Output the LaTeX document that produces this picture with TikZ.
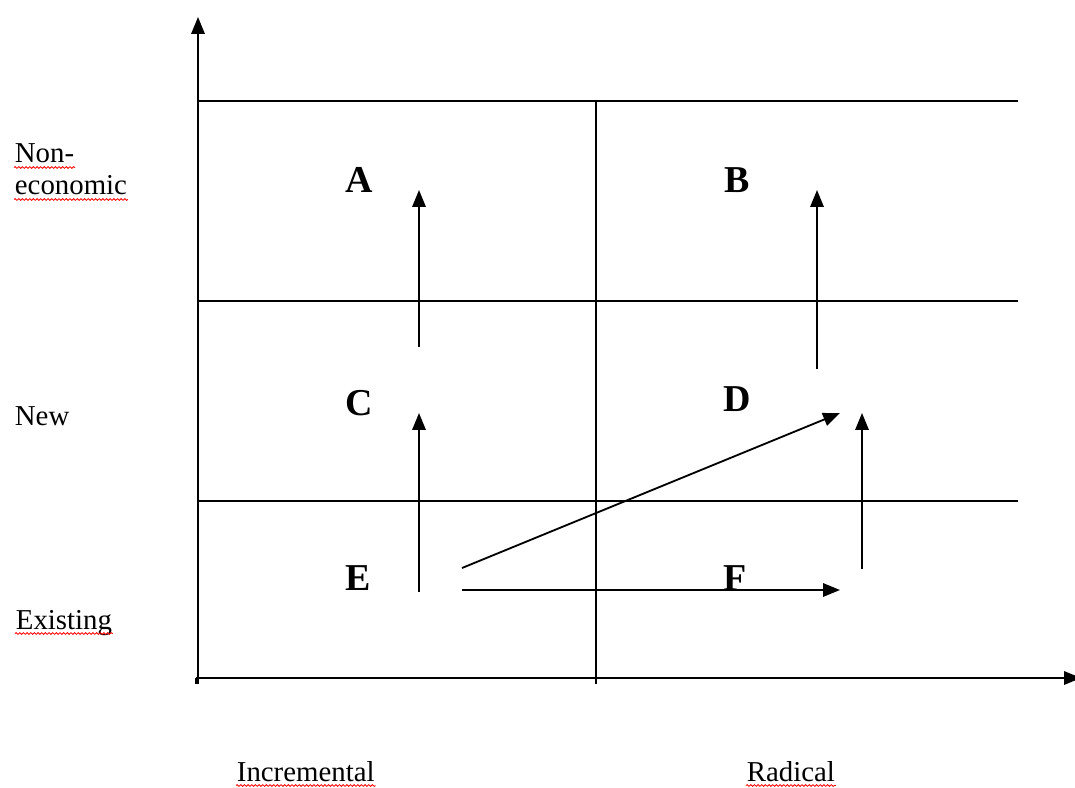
\documentclass[tikz,border=0pt]{standalone}
\usepackage{fontspec}
\setmainfont{Liberation Serif}
\usetikzlibrary{arrows.meta,decorations.pathmorphing}

\begin{document}
\begin{tikzpicture}[x=.025cm,y=-.025cm,line width=1.3pt,
  cell/.style={font=\fontsize{27}{27}\selectfont\bfseries,inner sep=0pt},
  axlab/.style={font=\fontsize{20.5}{23}\selectfont,inner sep=0pt,anchor=base west},
  squig/.style={red,line width=.6pt,decorate,decoration={snake,amplitude=.6pt,segment length=2.6pt}},
  arr/.style={-{Triangle[length=12pt,width=9.5pt]}}]
\useasboundingbox (0,0) rectangle (1075,787);
% axes
\coordinate (o) at (198,678);
\coordinate (ytop) at (198,17);
\coordinate (xend) at (1081,678);
\draw[arr] (198,684) -- (ytop);
\draw[arr] (196,678) -- (xend);
\draw (196,678) -- (196,684);
% grid
\draw (198,101) -- (1018,101);
\draw (198,301) -- (1018,301);
\draw (198,501) -- (1018,501);
\draw (596,101) -- (596,684);
% cells
\node[cell] (A) at (359,180) {A};
\node[cell] (B) at (737,180) {B};
\node[cell] (C) at (359,403) {C};
\node[cell] (D) at (737,399) {D};
\node[cell] (E) at (358,578) {E};
\node[cell] (F) at (735,578) {F};
% axis labels
\node[axlab] (non) at (14,163) {Non-};
\node[axlab] (eco) at (14,195) {economic};
\node[axlab] (new) at (14,425) {New};
\node[axlab] (exist) at (15,629) {Existing};
\node[axlab] (incr) at (236,781) {Incremental};
\node[axlab] (rad) at (746,781) {Radical};
% spelling marks
\foreach \w in {non,eco,exist,incr,rad}
  \draw[squig] ([yshift=-3.2pt]\w.base west) -- ([yshift=-3.2pt]\w.base east);
% arrows
\coordinate (ca) at (419,347);  \coordinate (ta) at (419,190);
\coordinate (ce) at (419,592);  \coordinate (tc) at (419,413);
\coordinate (cb) at (817,369);  \coordinate (tb) at (817,190);
\coordinate (cf) at (862,569);  \coordinate (td) at (862,413);
\coordinate (se) at (462,568);  \coordinate (sd) at (840,413);
\coordinate (he) at (462,590);  \coordinate (hf) at (840,590);
\draw[arr] (ca) -- (ta);
\draw[arr] (ce) -- (tc);
\draw[arr] (cb) -- (tb);
\draw[arr] (cf) -- (td);
\draw[arr] (se) -- (sd);
\draw[arr] (he) -- (hf);
\end{tikzpicture}
\end{document}
